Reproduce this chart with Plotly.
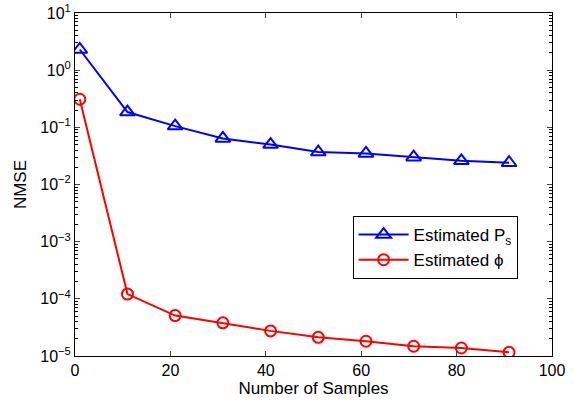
import plotly.graph_objects as go

samples = [1, 11, 21, 31, 41, 51, 61, 71, 81, 91]
nmse_ps = [2.3, 0.185, 0.105, 0.064, 0.050, 0.037, 0.035, 0.030, 0.026, 0.024]
nmse_phi = [0.31, 1.21e-4, 5.1e-5, 3.8e-5, 2.75e-5, 2.12e-5, 1.81e-5, 1.48e-5, 1.38e-5, 1.16e-5]

y_tickvals = [1e-5, 1e-4, 1e-3, 1e-2, 1e-1, 1e0, 1e1]
y_ticktext = ["10<sup>−5</sup>", "10<sup>−4</sup>", "10<sup>−3</sup>", "10<sup>−2</sup>",
              "10<sup>−1</sup>", "10<sup>0</sup>", "10<sup>1</sup>"]
x_tickvals = [0, 20, 40, 60, 80, 100]

fig = go.Figure()
fig.add_trace(go.Scatter(
    x=samples, y=nmse_ps, mode="lines+markers", name="Estimated P<sub>s</sub>",
    legendgroup="ps",
    line=dict(color="#0000FF", width=2),
    marker=dict(symbol="triangle-up-open", size=13, color="#0000FF", line=dict(width=2, color="#0000FF")),
))
fig.add_trace(go.Scatter(
    x=samples, y=nmse_phi, mode="lines+markers", name="Estimated ϕ",
    legendgroup="phi",
    line=dict(color="#FF0000", width=2),
    marker=dict(symbol="circle-open", size=11, color="#FF0000", line=dict(width=2, color="#FF0000")),
))

font = dict(family="Liberation Sans, Arial, sans-serif", size=16, color="black")

fig.update_layout(
    width=583, height=401,
    margin=dict(l=75, r=31, t=13, b=45),
    paper_bgcolor="white", plot_bgcolor="white",
    font=font,
    showlegend=True,
    legend=dict(x=0.582, y=0.408, xanchor="left", yanchor="top",
                bordercolor="black", borderwidth=1, bgcolor="white",
                font=dict(family="Liberation Sans, Arial, sans-serif", size=17),
                itemwidth=50, tracegroupgap=0),
    xaxis=dict(range=[0, 100], tickvals=x_tickvals, ticks="inside", ticklen=5,
               showline=True, linecolor="black", linewidth=1, mirror="allticks",
               showgrid=False, zeroline=False, automargin=False,
               title=dict(text="Number of Samples", standoff=0, font=dict(size=17)),
               tickfont=dict(size=16)),
    yaxis=dict(type="log", range=[-5, 1], tickvals=y_tickvals, ticktext=y_ticktext,
               ticks="inside", ticklen=5,
               showline=True, linecolor="black", linewidth=1, mirror="allticks",
               showgrid=False, zeroline=False, automargin=False,
               minor=dict(ticks="inside", ticklen=3, dtick="D1", showgrid=False, tickcolor="black"),
               title=dict(text="NMSE", standoff=9, font=dict(size=17)),
               tickfont=dict(size=16)),
)

fig.write_html("out.html", config={"displayModeBar": False},
               post_script="document.body.style.margin='0';")
